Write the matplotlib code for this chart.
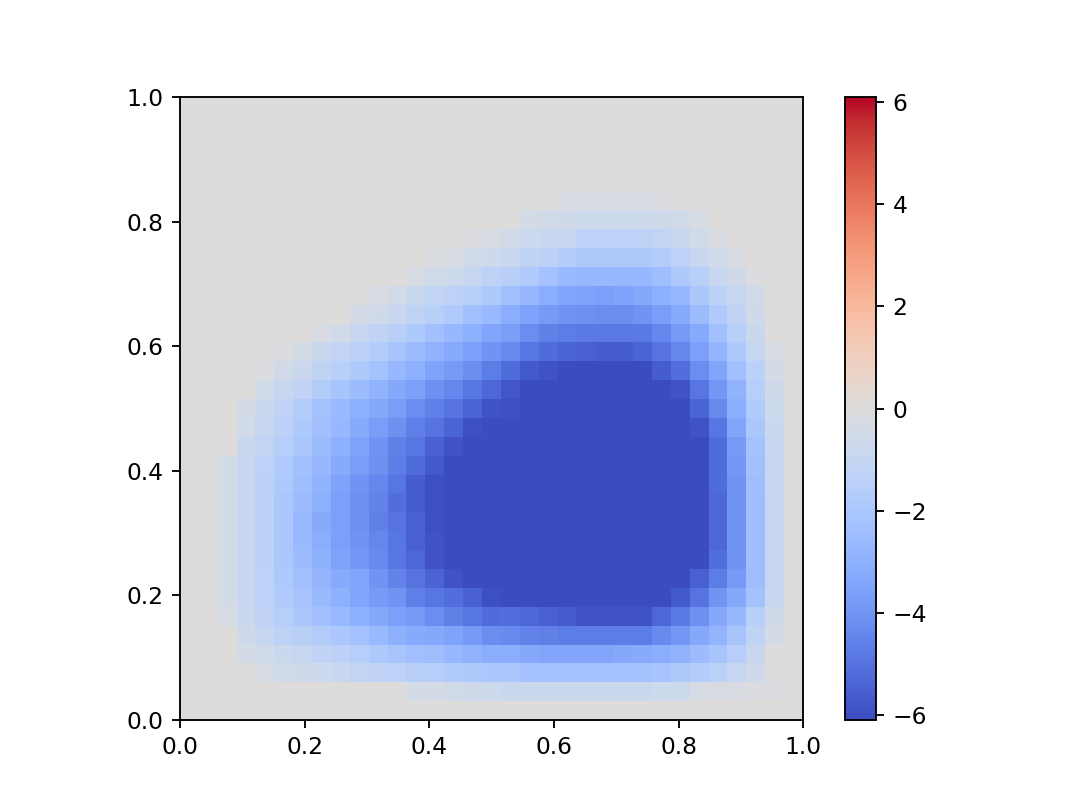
import numpy as np
import matplotlib
matplotlib.use('Agg')
import matplotlib.pyplot as plt

# Field values per cell, rows listed from bottom (y=0) to top (y=1)
D = -6.1  # saturated cells
rows = [
    [0]*33,
    [0]*12 + [-.4, -.4, -.5, -.6, -.7, -.8, -.8, -.8, -.8, -.8, -.8, -.8, -.8, -.7, -.7, -.3, -.2, -.2, -.1, -.1, 0],
    [0, 0, 0, 0, -.3, -.5, -.6, -.7, -.9, -1.1, -1.2, -1.3, -1.5, -1.6, -1.8, -1.9, -2.0, -2.0, -2.2, -2.2, -2.2, -2.2, -2.2, -2.2, -2.2, -2.1, -1.9, -1.7, -1.4, -1.0, -.6, 0, 0],
    [0, 0, 0, -.4, -.5, -.8, -1.0, -1.2, -1.4, -1.6, -1.9, -2.1, -2.3, -2.4, -2.7, -2.9, -3.1, -3.1, -3.3, -3.4, -3.4, -3.4, -3.4, -3.3, -3.2, -3.1, -2.9, -2.5, -2.1, -1.6, -.9, 0, 0],
    [0, 0, 0, -.6, -1.0, -1.3, -1.5, -1.7, -2.0, -2.2, -2.6, -3.0, -3.2, -3.3, -3.5, -3.8, -4.2, -4.3, -4.5, -4.6, -4.7, -4.7, -4.7, -4.7, -4.7, -4.3, -3.9, -3.3, -2.8, -2.1, -1.2, -.4, 0],
    [0, 0, -.3, -.8, -1.2, -1.6, -2.0, -2.3, -2.6, -3.0, -3.3, -3.6, -3.8, -4.2, -4.6, -4.9, -5.2, -5.1, -5.3, -5.5, -5.6, -5.9, -5.9, -5.9, -5.9, -5.3, -4.8, -4.1, -3.3, -2.7, -1.5, -.6, 0],
    [0, 0, -.4, -.9, -1.3, -1.8, -2.1, -2.6, -3.0, -3.4, -3.8, -4.0, -4.6, -4.9, -5.1, -5.5, -6.0, D, D, D, D, D, D, D, D, D, -5.7, -5.0, -4.0, -3.3, -2.2, -.9, 0],
    [0, 0, -.4, -.9, -1.3, -1.9, -2.3, -2.8, -3.2, -3.4, -4.0, -4.5, -5.0, -5.4, -5.9, D, D, D, D, D, D, D, D, D, D, D, D, -5.5, -4.7, -3.8, -2.4, -1.0, 0],
    [0, 0, -.4, -.9, -1.4, -2.0, -2.5, -3.0, -3.5, -3.9, -4.3, -4.9, -5.3, -5.9, D, D, D, D, D, D, D, D, D, D, D, D, D, D, -5.1, -4.0, -2.4, -1.0, 0],
    [0, 0, -.4, -.9, -1.4, -2.0, -2.6, -3.1, -3.6, -4.0, -4.4, -4.9, -5.5, -5.9, D, D, D, D, D, D, D, D, D, D, D, D, D, D, -5.3, -4.0, -2.4, -1.0, 0],
    [0, 0, -.4, -.9, -1.4, -2.0, -2.6, -3.2, -3.6, -4.1, -4.6, -5.0, -5.5, -6.0, D, D, D, D, D, D, D, D, D, D, D, D, D, D, -5.3, -4.0, -2.4, -1.0, 0],
    [0, 0, -.4, -.9, -1.4, -2.0, -2.5, -3.0, -3.6, -4.1, -4.5, -5.1, -5.6, -6.0, D, D, D, D, D, D, D, D, D, D, D, D, D, D, -5.3, -4.0, -2.4, -1.0, 0],
    [0, 0, -.4, -.9, -1.4, -1.9, -2.4, -2.9, -3.5, -4.0, -4.4, -4.9, -5.6, -6.0, D, D, D, D, D, D, D, D, D, D, D, D, D, D, -5.2, -4.0, -2.4, -.9, 0],
    [0, 0, -.4, -.9, -1.3, -1.8, -2.3, -2.7, -3.2, -3.7, -4.1, -4.7, -5.2, -5.7, D, D, D, D, D, D, D, D, D, D, D, D, D, D, -5.2, -3.9, -2.3, -.9, 0],
    [0, 0, 0, -.8, -1.1, -1.6, -2.0, -2.5, -3.0, -3.5, -4.0, -4.6, -4.9, -5.5, -5.9, D, D, D, D, D, D, D, D, D, D, D, D, D, -5.2, -3.8, -2.2, -.9, 0],
    [0, 0, 0, -.5, -1.0, -1.4, -1.9, -2.3, -2.7, -3.2, -3.7, -4.1, -4.6, -5.0, -5.4, -6.0, D, D, D, D, D, D, D, D, D, D, D, -5.9, -4.9, -3.4, -2.0, -.8, 0],
    [0, 0, 0, -.4, -.8, -1.2, -1.7, -2.2, -2.6, -3.0, -3.3, -3.7, -4.2, -4.6, -5.0, -5.4, -5.9, -6.0, D, D, D, D, D, D, D, D, D, -5.4, -4.3, -3.1, -1.8, -.7, 0],
    [0, 0, 0, 0, -.5, -.9, -1.2, -1.7, -2.1, -2.5, -2.9, -3.3, -3.6, -4.1, -4.4, -4.9, -5.3, -5.8, D, D, D, D, D, D, D, D, -5.9, -4.9, -3.9, -2.9, -1.6, -.6, 0],
    [0, 0, 0, 0, -.1, -.5, -.8, -1.2, -1.5, -1.9, -2.2, -2.7, -3.0, -3.5, -3.8, -4.2, -4.7, -5.2, -5.7, -5.9, D, D, D, D, D, -5.6, -5.1, -4.2, -3.4, -2.3, -1.4, -.4, 0],
    [0, 0, 0, 0, 0, -.1, -.4, -.8, -1.1, -1.4, -1.7, -2.1, -2.5, -2.9, -3.2, -3.6, -4.0, -4.3, -4.9, -5.2, -5.4, -5.5, -5.6, -5.6, -5.4, -5.0, -4.4, -3.6, -2.8, -1.9, -1.0, -.3, 0],
    [0, 0, 0, 0, 0, 0, 0, -.2, -.5, -.9, -1.2, -1.5, -1.9, -2.3, -2.7, -3.0, -3.4, -3.7, -4.2, -4.6, -4.7, -4.8, -4.8, -4.8, -4.8, -4.4, -3.8, -3.2, -2.3, -1.5, -.8, 0, 0],
    [0, 0, 0, 0, 0, 0, 0, 0, 0, -.4, -.6, -.9, -1.2, -1.5, -1.8, -2.3, -2.6, -3.1, -3.5, -3.8, -4.0, -4.1, -4.2, -4.2, -4.0, -3.7, -3.2, -2.5, -1.8, -1.2, -.6, 0, 0],
    [0, 0, 0, 0, 0, 0, 0, 0, 0, 0, -.2, -.5, -.8, -1.1, -1.3, -1.5, -1.9, -2.3, -2.7, -3.1, -3.4, -3.5, -3.6, -3.5, -3.3, -3.0, -2.7, -2.0, -1.4, -.9, -.5, 0, 0],
    [0, 0, 0, 0, 0, 0, 0, 0, 0, 0, 0, 0, -.3, -.5, -.7, -1.0, -1.3, -1.5, -1.8, -2.2, -2.6, -2.7, -2.7, -2.7, -2.7, -2.4, -1.9, -1.5, -.9, -.6, -.1, 0, 0],
    [0, 0, 0, 0, 0, 0, 0, 0, 0, 0, 0, 0, 0, -.1, -.3, -.5, -.7, -.9, -1.2, -1.4, -1.7, -1.9, -1.9, -1.9, -1.9, -1.7, -1.3, -.9, -.5, -.2, 0, 0, 0],
    [0, 0, 0, 0, -.04, 0, 0, 0, 0, 0, 0, 0, 0, 0, 0, -.1, -.3, -.5, -.7, -.9, -1.0, -1.3, -1.3, -1.3, -1.3, -1.1, -.8, -.5, -.2, 0, 0, 0, 0],
    [-.04, 0, 0, 0, 0, 0, 0, 0, 0, 0, 0, 0, 0, 0, 0, 0, 0, 0, -.4, -.5, -.6, -.7, -.7, -.7, -.7, -.6, -.5, -.3, 0, 0, 0, 0, 0],
    [0]*20 + [-.2, -.2, -.2, -.2, -.2, -.1, 0, 0, 0, 0, 0, 0, 0],
    [0]*33,
    [0]*33,
    [0]*33,
    [0]*33,
    [0]*33,
]
cbar_ticks = [-6, -4, -2, 0, 2, 4, 6]

field = np.array(rows, dtype=float)

fig = plt.figure(figsize=(6.4, 4.803), dpi=168.44)
im = plt.imshow(field, cmap='coolwarm', vmin=-6.1, vmax=6.1, origin='lower', extent=[0, 1, 0, 1])
cbar = plt.colorbar(im)
cbar.set_ticks(cbar_ticks)
plt.savefig('out.png')
